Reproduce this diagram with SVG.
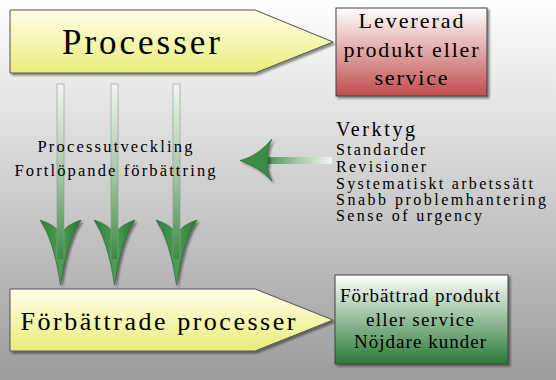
<svg xmlns="http://www.w3.org/2000/svg" width="556" height="380" viewBox="0 0 556 380">
<style>
text{font-family:'Liberation Serif','DejaVu Serif','Noto Serif','Tinos','FreeSerif','Times New Roman','Times',serif;fill:#000}
.box{stroke:#404040;stroke-width:1}
</style>
<defs>
<linearGradient id="bg" x1="0" y1="0" x2="0" y2="1">
<stop offset="0" stop-color="#ffffff"/><stop offset="1" stop-color="#9c9c9c"/>
</linearGradient>
<linearGradient id="yel" x1="0" y1="0" x2="0" y2="1">
<stop offset="0" stop-color="#ffffe8"/><stop offset="1" stop-color="#eaec7a"/>
</linearGradient>
<linearGradient id="red" x1="0" y1="0" x2="0" y2="1">
<stop offset="0" stop-color="#ffffff"/><stop offset="1" stop-color="#bf4d4d"/>
</linearGradient>
<linearGradient id="grn" x1="0" y1="0" x2="0" y2="1">
<stop offset="0" stop-color="#ffffff"/><stop offset="1" stop-color="#2a7a36"/>
</linearGradient>
<linearGradient id="shaftV" x1="0" y1="0" x2="0" y2="1">
<stop offset="0" stop-color="#f4f4f4"/><stop offset="0.5" stop-color="#a8c8a8"/><stop offset="1" stop-color="#3a8a44"/>
</linearGradient>
<linearGradient id="shaftH" x1="1" y1="0" x2="0" y2="0">
<stop offset="0" stop-color="#f4f4f4"/><stop offset="0.5" stop-color="#a0c8a4"/><stop offset="1" stop-color="#3a8a44"/>
</linearGradient>
<linearGradient id="head" x1="0" y1="0" x2="1" y2="0">
<stop offset="0" stop-color="#2e7d38"/><stop offset="0.5" stop-color="#4aa055"/><stop offset="1" stop-color="#2a7434"/>
</linearGradient>
<filter id="sh" x="-10%" y="-10%" width="130%" height="130%">
<feDropShadow dx="2" dy="2" stdDeviation="1.2" flood-color="#000" flood-opacity="0.45"/>
</filter>
</defs>
<rect width="556" height="380" fill="url(#bg)"/>

<g id="connectors">
<g id="arrow1">
<path d="M60.5,285 Q54,240 40,220 Q52,224 57,230 L64,230 Q69,224 81,220 Q67,240 60.5,285 Z" fill="url(#head)" stroke="#2a5a30" stroke-width="0.6" filter="url(#sh)"/>
<rect x="57" y="84" width="7" height="176" fill="url(#shaftV)" stroke="#8a9a8a" stroke-width="0.6"/>
</g>
<g id="arrow2">
<path d="M114.5,285 Q108,240 94,220 Q106,224 111,230 L118,230 Q123,224 135,220 Q121,240 114.5,285 Z" fill="url(#head)" stroke="#2a5a30" stroke-width="0.6" filter="url(#sh)"/>
<rect x="111" y="84" width="7" height="176" fill="url(#shaftV)" stroke="#8a9a8a" stroke-width="0.6"/>
</g>
<g id="arrow3">
<path d="M176.5,285 Q170,240 156,220 Q168,224 173,230 L180,230 Q185,224 197,220 Q183,240 176.5,285 Z" fill="url(#head)" stroke="#2a5a30" stroke-width="0.6" filter="url(#sh)"/>
<rect x="173" y="84" width="7" height="176" fill="url(#shaftV)" stroke="#8a9a8a" stroke-width="0.6"/>
</g>
<g id="arrowH">
<rect x="262" y="157" width="70" height="7" fill="url(#shaftH)"/>
<path d="M240,160.5 Q258,156 272,139 Q266,152 268,157 L268,164 Q266,170 272,181 Q258,166 240,160.5 Z" fill="#3a8c45" stroke="#2a5a30" stroke-width="0.6" filter="url(#sh)"/>
</g>
</g>

<g id="processer">
<path d="M10,10 L255,10 L333,42 L255,73 L10,73 Z" fill="url(#yel)" stroke="#555" stroke-width="1" filter="url(#sh)"/>
<text x="141" y="54" font-size="35" text-anchor="middle" textLength="158">Processer</text>
</g>

<g id="levererad">
<rect class="box" x="336" y="8" width="151" height="88" fill="url(#red)" filter="url(#sh)"/>
<text x="411" y="28" font-size="22" text-anchor="middle" textLength="105">Levererad</text>
<text x="411" y="57" font-size="22" text-anchor="middle" textLength="135">produkt eller</text>
<text x="411" y="85" font-size="22" text-anchor="middle" textLength="73">service</text>
</g>

<g id="utveckling">
<text x="115" y="152" font-size="16.5" text-anchor="middle" textLength="155">Processutveckling</text>
<text x="115" y="176" font-size="16.5" text-anchor="middle" textLength="201">Fortlöpande förbättring</text>
</g>

<g id="verktyg">
<text x="336" y="136" font-size="20" textLength="79">Verktyg</text>
<text x="336" y="155" font-size="16" textLength="89" lengthAdjust="spacing">Standarder</text>
<text x="336" y="172" font-size="16" textLength="90" lengthAdjust="spacing">Revisioner</text>
<text x="336" y="189" font-size="16" textLength="197" lengthAdjust="spacing">Systematiskt arbetssätt</text>
<text x="336" y="205" font-size="16" textLength="210" lengthAdjust="spacing">Snabb problemhantering</text>
<text x="336" y="221" font-size="16" textLength="146" lengthAdjust="spacing">Sense of urgency</text>
</g>

<g id="forbattrade">
<path d="M10,289 L255,289 L333,320 L255,351 L10,351 Z" fill="url(#yel)" stroke="#555" stroke-width="1" filter="url(#sh)"/>
<text x="158" y="330" font-size="26" text-anchor="middle" textLength="275">Förbättrade processer</text>
</g>

<g id="resultat">
<rect class="box" x="335" y="275" width="173" height="89" fill="url(#grn)" filter="url(#sh)"/>
<text x="420" y="302" font-size="19" text-anchor="middle" textLength="160">Förbättrad produkt</text>
<text x="420" y="326" font-size="19" text-anchor="middle" textLength="108">eller service</text>
<text x="420" y="348" font-size="19" text-anchor="middle" textLength="132">Nöjdare kunder</text>
</g>
</svg>
